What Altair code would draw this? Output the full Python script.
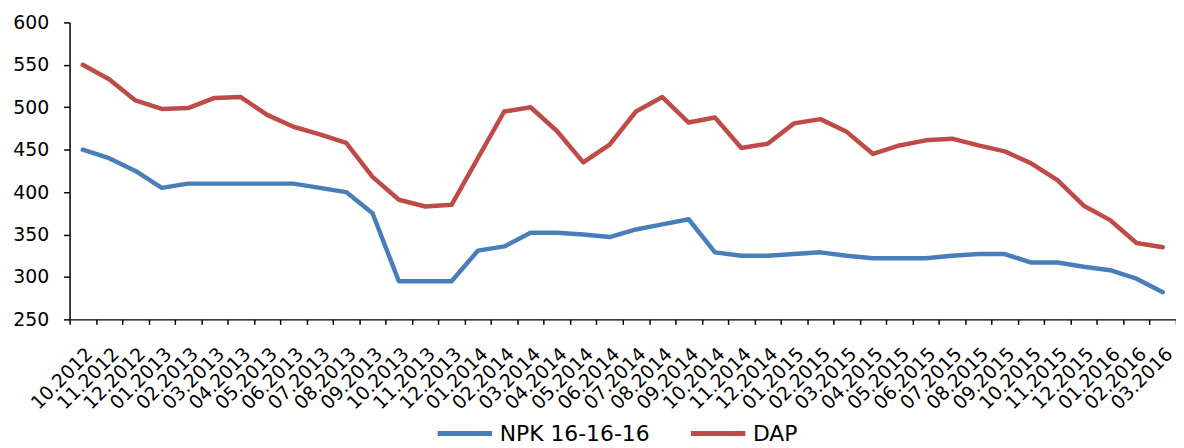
import altair as alt
import pandas as pd

months = ["10.2012", "11.2012", "12.2012", "01.2013", "02.2013", "03.2013", "04.2013",
          "05.2013", "06.2013", "07.2013", "08.2013", "09.2013", "10.2013", "11.2013",
          "12.2013", "01.2014", "02.2014", "03.2014", "04.2014", "05.2014", "06.2014",
          "07.2014", "08.2014", "09.2014", "10.2014", "11.2014", "12.2014", "01.2015",
          "02.2015", "03.2015", "04.2015", "05.2015", "06.2015", "07.2015", "08.2015",
          "09.2015", "10.2015", "11.2015", "12.2015", "01.2016", "02.2016", "03.2016"]

npk = [450, 440, 425, 405, 410, 410, 410, 410, 410, 405, 400, 375, 295, 295, 295,
       331, 336, 352, 352, 350, 347, 356, 362, 368, 329, 325, 325, 327, 329, 325,
       322, 322, 322, 325, 327, 327, 317, 317, 312, 308, 298, 282]

dap = [550, 533, 508, 498, 499, 511, 512, 491, 477, 468, 458, 418, 391, 383, 385,
       440, 495, 500, 472, 435, 456, 495, 512, 482, 488, 452, 457, 481, 486, 471,
       445, 455, 461, 463, 455, 448, 434, 414, 384, 367, 340, 335]

series_names = ["NPK 16-16-16", "DAP"]
series_colors = ["#4A7EBB", "#BE4B48"]
y_ticks = [250, 300, 350, 400, 450, 500, 550, 600]

rows = []
for i, m in enumerate(months):
    rows.append({"month": m, "order": i, "series": series_names[0], "value": npk[i]})
    rows.append({"month": m, "order": i, "series": series_names[1], "value": dap[i]})
df = pd.DataFrame(rows)

FONT = "DejaVu Sans"

chart = alt.Chart(df).mark_line(strokeWidth=4.5, strokeCap="round", strokeJoin="round").encode(
    x=alt.X("month:N", sort=months, title=None,
            scale=alt.Scale(paddingInner=0, paddingOuter=0),
            axis=alt.Axis(labelAngle=-45, labelOverlap=False, tickBand="extent",
                          tickSize=5, tickColor="black", tickWidth=1.5,
                          domainColor="black", domainWidth=1.5,
                          labelFont=FONT, labelFontSize=19, labelColor="black",
                          labelPadding=20, grid=False)),
    y=alt.Y("value:Q", title=None,
            scale=alt.Scale(domain=[250, 600], nice=False, zero=False),
            axis=alt.Axis(values=y_ticks, tickSize=6, tickColor="black", tickWidth=1.5,
                          domainColor="black", domainWidth=1.5,
                          labelFont=FONT, labelFontSize=19, labelColor="black",
                          labelPadding=15, grid=False)),
    color=alt.Color("series:N",
                    scale=alt.Scale(domain=series_names, range=series_colors),
                    legend=alt.Legend(title=None, orient="none", direction="horizontal",
                                      legendX=368, legendY=384,
                                      symbolType="stroke", symbolSize=3000,
                                      symbolStrokeWidth=5,
                                      labelFont=FONT, labelFontSize=22, labelColor="black",
                                      labelOffset=5, columnPadding=30, padding=0)),
    order="order:Q",
).properties(
    width=1114,
    height=299,
    background="white",
    autosize=alt.AutoSizeParams(type="none"),
    padding={"left": 62, "top": 13, "right": 0, "bottom": 128},
).configure_view(strokeWidth=0, stroke="transparent")

chart.save("out.html", embed_options={"renderer": "svg", "actions": False})
